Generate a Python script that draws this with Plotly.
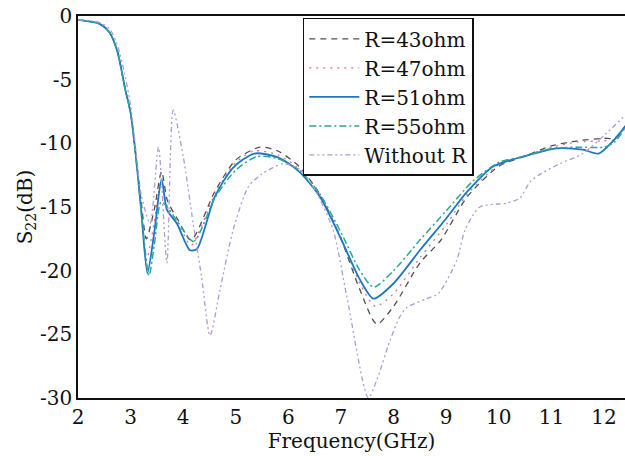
import plotly.graph_objects as go

# ---- data ----
f_r43 = [2.0, 2.4, 2.6, 2.75, 2.9, 3.0, 3.1, 3.2, 3.3, 3.45, 3.59, 3.7, 3.9, 4.15, 4.6, 5.0, 5.46, 5.8, 6.2, 6.6, 7.0, 7.36, 7.68, 8.0, 8.5, 8.9, 9.4, 10.0, 10.5, 11.0, 11.5, 12.0, 12.2, 12.45]
s_r43 = [-0.3, -0.6, -1.3, -2.8, -5.8, -7.6, -11.0, -14.5, -17.5, -15.2, -12.2, -14.5, -16.0, -17.6, -13.8, -11.3, -10.3, -10.6, -11.8, -14.0, -17.5, -21.5, -24.2, -22.8, -19.4, -17.6, -14.2, -11.8, -11.0, -10.2, -9.8, -9.6, -9.6, -8.4]

f_r47 = [2.0, 2.4, 2.6, 2.75, 2.9, 3.0, 3.1, 3.2, 3.3, 3.45, 3.58, 3.7, 3.9, 4.15, 4.6, 5.0, 5.35, 5.8, 6.2, 6.6, 7.0, 7.36, 7.65, 8.0, 8.5, 9.0, 9.4, 10.0, 10.5, 11.0, 11.5, 12.0, 12.2, 12.45]
s_r47 = [-0.3, -0.6, -1.3, -2.8, -5.8, -7.6, -11.0, -15.0, -19.2, -16.2, -13.0, -15.0, -16.2, -18.0, -14.0, -11.5, -10.6, -10.9, -12.0, -14.1, -17.4, -21.0, -22.8, -21.8, -19.0, -16.4, -14.0, -11.7, -11.0, -10.3, -9.9, -9.8, -9.7, -8.4]

f_r51 = [2.0, 2.4, 2.6, 2.75, 2.9, 3.0, 3.1, 3.2, 3.32, 3.45, 3.59, 3.69, 3.88, 4.13, 4.26, 4.6, 4.95, 5.35, 5.8, 6.2, 6.6, 7.0, 7.36, 7.62, 8.0, 8.5, 9.0, 9.4, 9.9, 10.5, 11.1, 11.6, 11.9, 12.2, 12.45]
s_r51 = [-0.3, -0.6, -1.3, -2.8, -5.8, -7.6, -11.0, -15.2, -20.2, -17.0, -12.8, -15.2, -16.3, -18.4, -18.3, -14.2, -11.9, -10.8, -11.1, -12.2, -14.2, -17.5, -20.7, -22.2, -21.0, -18.4, -15.9, -13.8, -11.8, -11.0, -10.4, -10.5, -10.8, -9.7, -8.4]

f_r55 = [2.0, 2.4, 2.6, 2.75, 2.9, 3.0, 3.1, 3.2, 3.35, 3.45, 3.58, 3.7, 3.9, 4.2, 4.6, 5.0, 5.4, 5.8, 6.2, 6.6, 7.0, 7.36, 7.62, 8.0, 8.5, 9.0, 9.5, 10.0, 10.5, 11.0, 11.5, 12.0, 12.2, 12.45]
s_r55 = [-0.3, -0.6, -1.3, -2.8, -5.8, -7.6, -11.0, -15.2, -20.4, -18.0, -14.6, -15.0, -16.2, -17.7, -14.3, -12.1, -11.05, -11.2, -12.1, -14.0, -17.0, -20.0, -21.3, -20.0, -17.6, -15.3, -13.0, -11.5, -11.0, -10.4, -10.3, -10.3, -9.9, -8.5]

f_nor = [2.0, 2.4, 2.6, 2.75, 2.9, 3.0, 3.1, 3.2, 3.37, 3.53, 3.69, 3.81, 4.0, 4.19, 4.35, 4.51, 4.7, 4.95, 5.24, 5.5, 5.9, 6.2, 6.5, 6.85, 7.11, 7.52, 7.68, 7.93, 8.12, 8.25, 8.63, 8.85, 9.2, 9.36, 9.64, 10.15, 10.4, 10.6, 10.8, 11.16, 11.6, 12.05, 12.4]
s_nor = [-0.3, -0.5, -1.0, -2.3, -4.8, -7.0, -10.5, -14.0, -16.3, -10.3, -19.4, -7.4, -11.0, -16.3, -20.5, -25.1, -21.5, -16.8, -13.4, -12.4, -11.6, -12.0, -13.6, -16.8, -22.0, -30.0, -28.6, -25.5, -23.6, -22.9, -22.2, -21.8, -19.2, -16.8, -15.0, -14.7, -14.3, -13.0, -12.4, -11.6, -10.8, -9.2, -7.8]

names = ["R=43ohm", "R=47ohm", "R=51ohm", "R=55ohm", "Without R"]
y_ticks = [0, -5, -10, -15, -20, -25, -30]
y_tick_text = ["0", "-5", "-10", "-15", "-20", "-25", "-30"]
x_ticks = [2, 3, 4, 5, 6, 7, 8, 9, 10, 11, 12]

FONT = "DejaVu Serif"
FS = 20

series = [
    (f_r43, s_r43, names[0], dict(color="#505050", width=1.3, dash="6px,5px")),
    (f_r47, s_r47, names[1], dict(color="#e0708a", width=1.3, dash="2px,5px")),
    (f_r51, s_r51, names[2], dict(color="#1a78c8", width=1.8, dash="solid")),
    (f_r55, s_r55, names[3], dict(color="#2aa890", width=1.5, dash="7px,3px,2px,3px")),
    (f_nor, s_nor, names[4], dict(color="#b09ad8", width=1.3, dash="5px,3px,2px,3px,2px,3px")),
]

fig = go.Figure()
for fx, sy, nm, ln in series:
    ln = dict(ln)
    ln["shape"] = "spline"
    ln["smoothing"] = 0.7
    fig.add_trace(go.Scatter(x=fx, y=sy, mode="lines", name=nm, line=ln))

fig.update_layout(
    width=625, height=456,
    margin=dict(l=78, r=0, t=16, b=58),
    paper_bgcolor="white", plot_bgcolor="white",
    font=dict(family=FONT, size=FS, color="#111111"),
    showlegend=True,
    legend=dict(
        x=0.411, y=0.995, xanchor="left", yanchor="top",
        bgcolor="white", bordercolor="#111111", borderwidth=1.5,
        font=dict(family=FONT, size=FS, color="#111111"),
        tracegroupgap=0, itemwidth=50,
    ),
    xaxis=dict(
        range=[2, 12.4], tickvals=x_ticks, ticks="", showgrid=False, zeroline=False,
        showline=True, linecolor="#111111", linewidth=1.5, mirror=True,
        tickfont=dict(family=FONT, size=FS),
        title=dict(text="Frequency(GHz)", font=dict(family=FONT, size=FS), standoff=0),
    ),
    yaxis=dict(
        range=[-30, 0], tickvals=y_ticks, ticktext=y_tick_text, ticks="", showgrid=False,
        zeroline=False, showline=True, linecolor="#111111", linewidth=1.5,
        tickfont=dict(family=FONT, size=FS),
        title=dict(text="S<sub>22</sub>(dB)", font=dict(family=FONT, size=FS), standoff=2),
    ),
)

fig.write_html("out.html")
